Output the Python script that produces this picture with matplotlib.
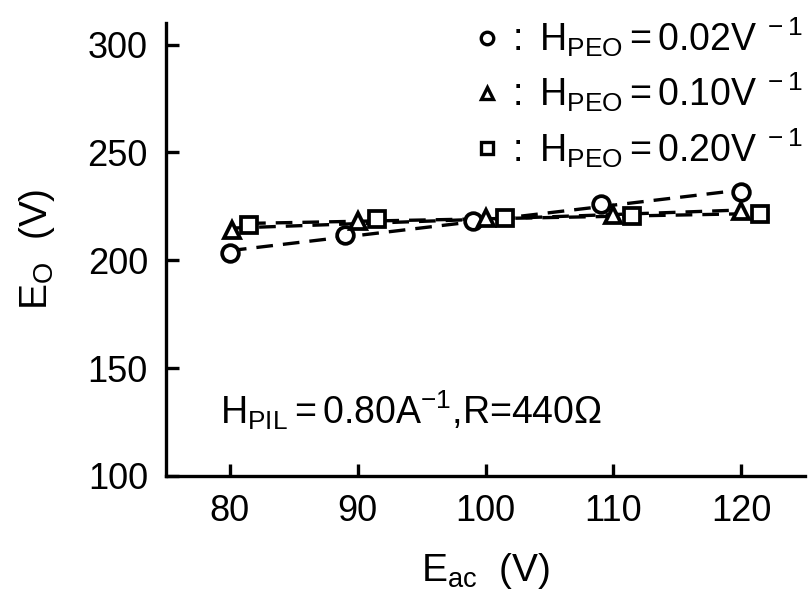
import numpy as np
import matplotlib
matplotlib.use("Agg")
import matplotlib.pyplot as plt
from matplotlib.lines import Line2D

plt.rcParams['font.family'] = ['Liberation Sans', 'DejaVu Sans']
plt.rcParams['mathtext.fontset'] = 'custom'
plt.rcParams['mathtext.rm'] = 'Liberation Sans'
plt.rcParams['mathtext.it'] = 'Liberation Sans:italic'

# data
x_circle = [80, 89, 99, 109, 120]
y_circle = [203.5, 211.5, 218, 226, 231.5]
x_tri = [80.2, 90, 100, 110, 120]
y_tri = [214, 218, 219.5, 221, 223]
x_sq = [81.5, 91.5, 101.5, 111.5, 121.5]
y_sq = [216.5, 219, 219.5, 220.5, 221.5]

series = [
    (x_circle, y_circle, 'o', r'$:\ \mathrm{H_{PEO}= 0.02V^{\ -1}}$'),
    (x_tri, y_tri, '^', r'$:\ \mathrm{H_{PEO}= 0.10V^{\ -1}}$'),
    (x_sq, y_sq, 's', r'$:\ \mathrm{H_{PEO}= 0.20V^{\ -1}}$'),
]

fig = plt.figure(figsize=(8.11, 5.94), dpi=100)
ax = fig.add_axes([0.2047, 0.1987, 0.7879, 0.7626])

handles = []
labels = []
for xs, ys, m, lab in series:
    xs = np.array(xs)
    # dashed fit line through each series
    k, b = np.polyfit(xs, ys, 1)
    ax.plot(xs, k * xs + b, color='black', lw=2.4, ls=(0, (5, 3)))
    ax.plot(xs, ys, m, ms=12, mfc='white', mec='black', mew=2.7,
            ls='none', zorder=3)
    handles.append(Line2D([], [], marker=m, ms=9, mfc='white', mec='black',
                          mew=2.4, ls='none'))
    labels.append(lab)

ax.legend(handles, labels, loc='upper right', frameon=False, fontsize=27,
          handlelength=0.6, handletextpad=0.2, labelspacing=0.3,
          borderaxespad=0.0, bbox_to_anchor=(1.02, 1.05))

ax.text(0.085, 0.145, r'$\mathrm{H_{PIL}= 0.80A^{-1}}$,R=440Ω',
        transform=ax.transAxes, fontsize=27, va='center')

ax.set_xlim(75, 125)
ax.set_ylim(100, 310)
ax.set_xticks([80, 90, 100, 110, 120])
ax.set_yticks([100, 150, 200, 250, 300])

for s in ['top', 'right']:
    ax.spines[s].set_visible(False)
for s in ['left', 'bottom']:
    ax.spines[s].set_linewidth(2.4)

ax.tick_params(direction='in', length=9, width=2.4, labelsize=26, pad=13)

ax.set_xlabel(r'$\mathrm{E_{ac}}$  (V)', fontsize=28, labelpad=16)
ax.set_ylabel(r'$\mathrm{E_{O}}$  (V)', fontsize=28, labelpad=22)

fig.savefig('out.png', dpi=100)
